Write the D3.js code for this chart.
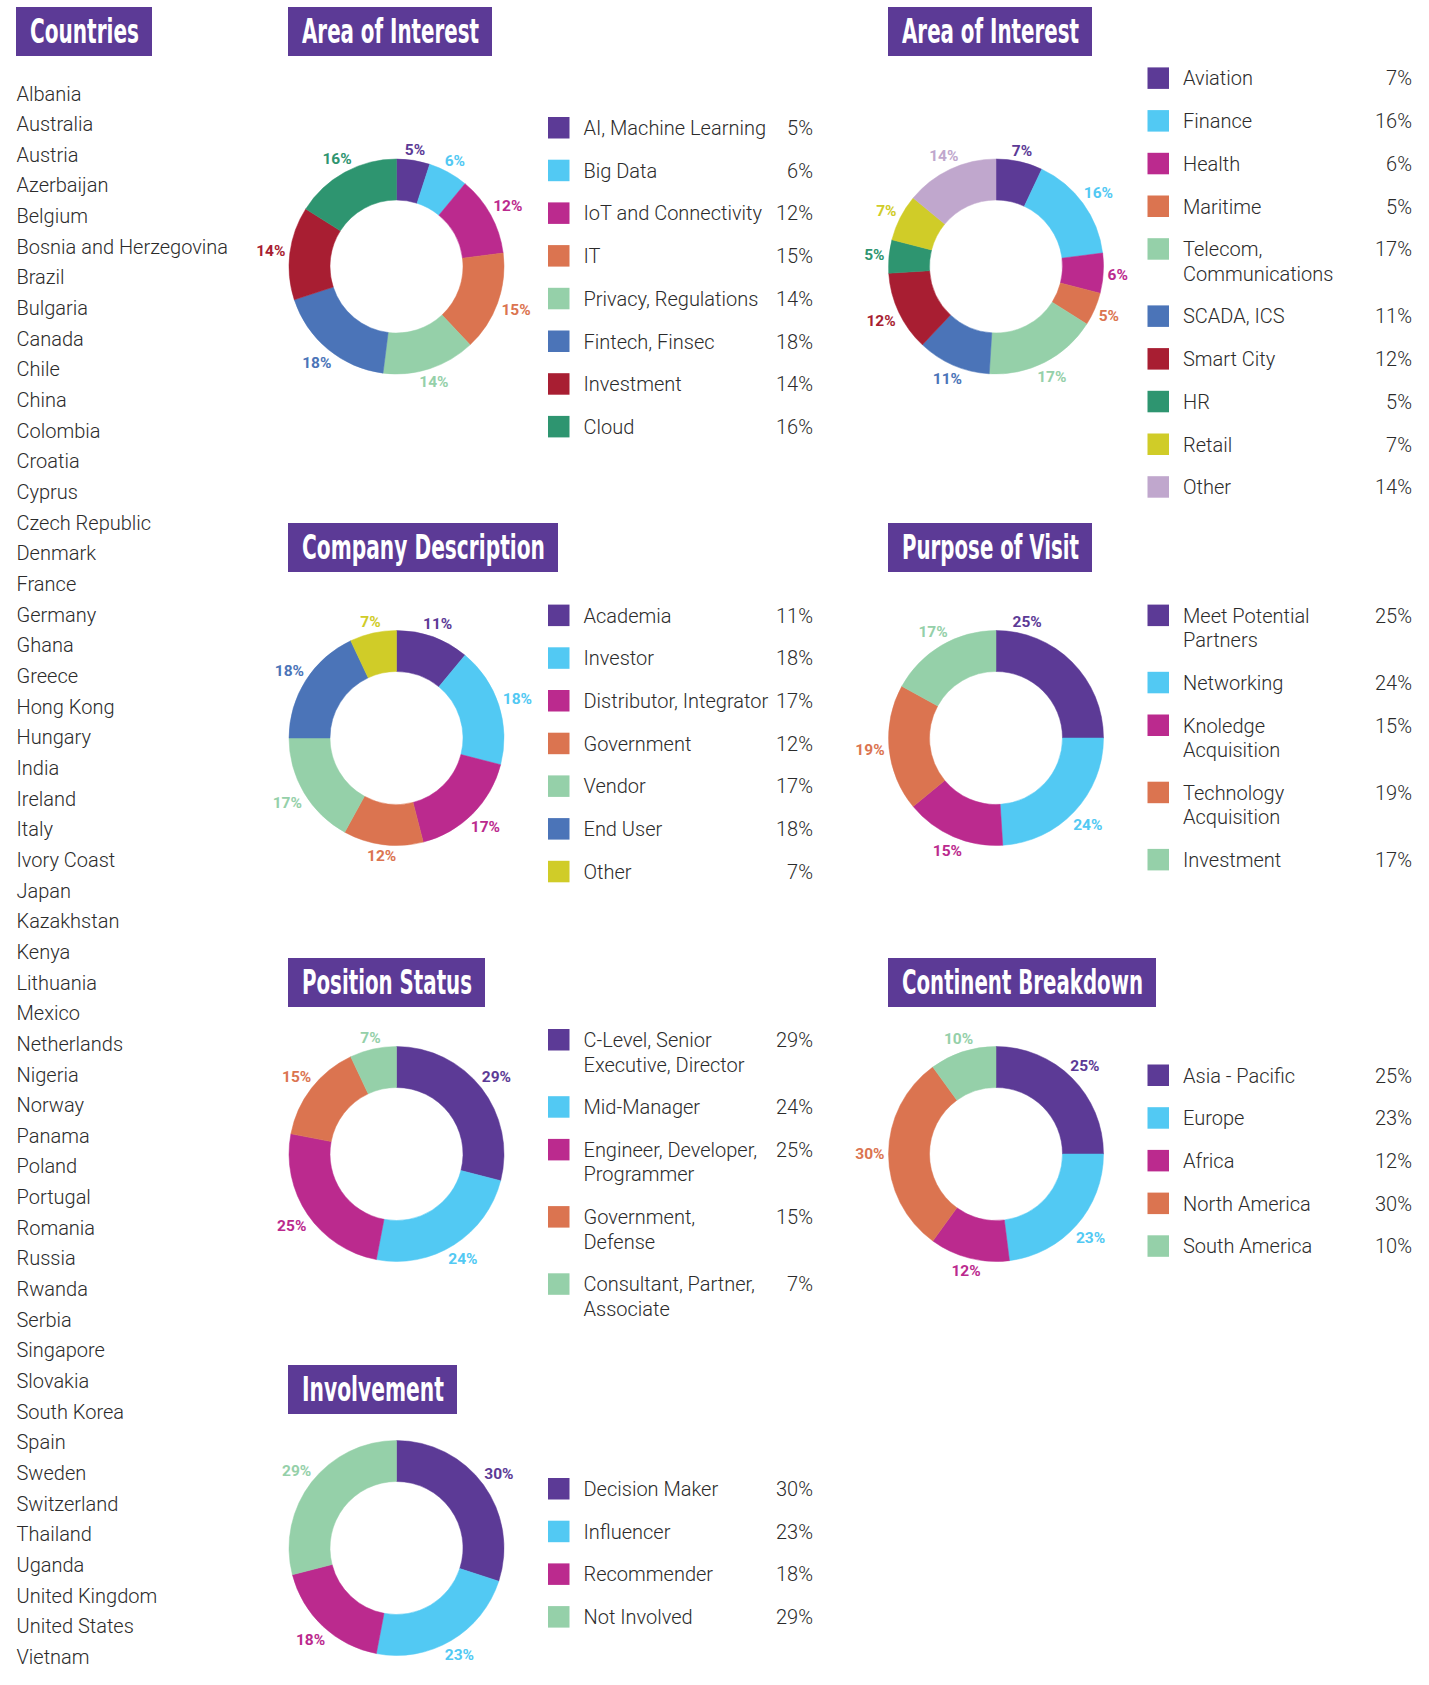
<!DOCTYPE html>
<html>
<head>
<meta charset="utf-8">
<script src="https://cdn.jsdelivr.net/npm/d3@7"></script>
<style>
body { margin: 0; background: #fff; }
text { font-family: Roboto, "Noto Sans", sans-serif; }
</style>
</head>
<body>
<svg id="chart"></svg>
<script>
var width = 1429;
var height = 1685;

var countries = ['Albania', 'Australia', 'Austria', 'Azerbaijan', 'Belgium', 'Bosnia and Herzegovina',
    'Brazil', 'Bulgaria', 'Canada', 'Chile', 'China', 'Colombia', 'Croatia', 'Cyprus', 'Czech Republic',
    'Denmark', 'France', 'Germany', 'Ghana', 'Greece', 'Hong Kong', 'Hungary', 'India', 'Ireland', 'Italy',
    'Ivory Coast', 'Japan', 'Kazakhstan', 'Kenya', 'Lithuania', 'Mexico', 'Netherlands', 'Nigeria', 'Norway',
    'Panama', 'Poland', 'Portugal', 'Romania', 'Russia', 'Rwanda', 'Serbia', 'Singapore', 'Slovakia',
    'South Korea', 'Spain', 'Sweden', 'Switzerland', 'Thailand', 'Uganda', 'United Kingdom',
    'United States', 'Vietnam'];

var interestLabels = ['AI, Machine Learning', 'Big Data', 'IoT and Connectivity', 'IT', 'Privacy, Regulations',
    'Fintech, Finsec', 'Investment', 'Cloud'];
var interestValues = [5, 6, 12, 15, 14, 18, 14, 16];

var sectorLabels = ['Aviation', 'Finance', 'Health', 'Maritime', 'Telecom,\nCommunications', 'SCADA, ICS',
    'Smart City', 'HR', 'Retail', 'Other'];
var sectorValues = [7, 16, 6, 5, 17, 11, 12, 5, 7, 14];

var companyLabels = ['Academia', 'Investor', 'Distributor, Integrator', 'Government', 'Vendor', 'End User', 'Other'];
var companyValues = [11, 18, 17, 12, 17, 18, 7];

var purposeLabels = ['Meet Potential\nPartners', 'Networking', 'Knoledge\nAcquisition', 'Technology\nAcquisition',
    'Investment'];
var purposeValues = [25, 24, 15, 19, 17];

var positionLabels = ['C-Level, Senior\nExecutive, Director', 'Mid-Manager', 'Engineer, Developer,\nProgrammer',
    'Government,\nDefense', 'Consultant, Partner,\nAssociate'];
var positionValues = [29, 24, 25, 15, 7];

var continentLabels = ['Asia - Pacific', 'Europe', 'Africa', 'North America', 'South America'];
var continentValues = [25, 23, 12, 30, 10];

var involvementLabels = ['Decision Maker', 'Influencer', 'Recommender', 'Not Involved'];
var involvementValues = [30, 23, 18, 29];

var purple = '#5c3a96';
var palette = [purple, '#52c9f3', '#bb2a8e', '#db7450', '#95d0a9', '#4b74b8', '#a81e32', '#2e9570',
    '#d0cc28', '#c0a7cd'];
var companyColors = [purple, '#52c9f3', '#bb2a8e', '#db7450', '#95d0a9', '#4b74b8', '#d0cc28'];
var involvementColors = [purple, '#52c9f3', '#bb2a8e', '#95d0a9'];

var outerR = 107.5;
var innerR = 66.5;
var rowStep = 42.7;
var lineStep = 24.5;
var textColor = '#2b2b2b';
var leftCol = {cx: 396.5, boxX: 288, legendX: 548, pctX: 813};
var rightCol = {cx: 996, boxX: 888, legendX: 1147.5, pctX: 1412};

var panels = [
    {title: 'Area of Interest', labels: interestLabels, values: interestValues, colors: palette,
        col: leftCol, boxY: 7, boxW: 204, cy: 266.5, legendY: 128},
    {title: 'Area of Interest', labels: sectorLabels, values: sectorValues, colors: palette,
        col: rightCol, boxY: 7, boxW: 204, cy: 266.5, legendY: 78.4},
    {title: 'Company Description', labels: companyLabels, values: companyValues, colors: companyColors,
        col: leftCol, boxY: 523, boxW: 270, cy: 738, legendY: 615.6},
    // the first label of this one sits nearer the top than the slice middle
    {title: 'Purpose of Visit', labels: purposeLabels, values: purposeValues, colors: palette,
        col: rightCol, boxY: 523, boxW: 204, cy: 738, legendY: 615.6, labelAngle: {0: 15}},
    {title: 'Position Status', labels: positionLabels, values: positionValues, colors: palette,
        col: leftCol, boxY: 958, boxW: 197, cy: 1154, legendY: 1040},
    {title: 'Continent Breakdown', labels: continentLabels, values: continentValues, colors: palette,
        col: rightCol, boxY: 958, boxW: 268, cy: 1154, legendY: 1075.5},
    {title: 'Involvement', labels: involvementLabels, values: involvementValues, colors: involvementColors,
        col: leftCol, boxY: 1365, boxW: 169, cy: 1548, legendY: 1489}
];

var svg = d3.select('#chart')
  .attr('width', width)
  .attr('height', height);

function drawTitle (x, y, w, label) {
    var g = svg.append('g').attr('transform', 'translate(' + x + ',' + y + ')');
    g.append('rect')
      .attr('width', w)
      .attr('height', 49)
      .attr('fill', purple);
    g.append('text')
      .attr('x', 14)
      .attr('y', 36)
      .attr('textLength', w - 27)
      .attr('lengthAdjust', 'spacingAndGlyphs')
      .style('font-family', '"Liberation Sans Narrow", "DejaVu Sans Condensed", sans-serif')
      .style('font-weight', 'bold')
      .style('font-size', '33px')
      .attr('fill', '#fff')
      .text(label);
}

// countries column
drawTitle(16, 7, 136, 'Countries');

var countryY = d3.scaleLinear()
  .domain([0, countries.length - 1])
  .range([93.5, 1657]);

svg.append('g').selectAll('text')
  .data(countries)
  .enter().append('text')
  .attr('x', 16.5)
  .attr('y', function (d, i) { return countryY(i); })
  .attr('dy', '0.35em')
  .style('font-size', '20px')
  .style('font-weight', 300)
  .attr('fill', textColor)
  .text(function (d) { return d; });

var pie = d3.pie().sort(null).value(function (d) { return d; });
var arc = d3.arc().innerRadius(innerR).outerRadius(outerR);

panels.forEach(function (p) {
    drawTitle(p.col.boxX, p.boxY, p.boxW, p.title);

    var color = d3.scaleOrdinal().domain(d3.range(p.values.length)).range(p.colors);
    var g = svg.append('g').attr('transform', 'translate(' + p.col.cx + ',' + p.cy + ')');

    var slices = pie(p.values);
    g.selectAll('path')
      .data(slices)
      .enter().append('path')
      .attr('d', arc)
      .attr('fill', function (d, i) { return color(i); })
      .attr('stroke', function (d, i) { return color(i); })
      .attr('stroke-width', 0.5);

    // percentage labels just outside the ring
    g.selectAll('text.pct')
      .data(slices)
      .enter().append('text')
      .attr('class', 'pct')
      .attr('text-anchor', 'middle')
      .attr('dy', '0.35em')
      .style('font-size', '15.5px')
      .style('font-weight', 'bold')
      .attr('fill', function (d, i) { return color(i); })
      .text(function (d) { return d.data + '%'; })
      .each(function (d, i) {
          var w = this.getComputedTextLength();
          var a = (d.startAngle + d.endAngle) / 2;
          if (p.labelAngle && p.labelAngle[i] !== undefined) a = p.labelAngle[i] * Math.PI / 180;
          var r = outerR + 4 + (w / 2) * Math.abs(Math.sin(a)) + 5.5 * Math.abs(Math.cos(a));
          d3.select(this)
            .attr('x', r * Math.sin(a))
            .attr('y', -r * Math.cos(a));
      });

    // legend
    var y = p.legendY;
    p.labels.forEach(function (label, i) {
        var lines = label.split('\n');
        var item = svg.append('g').attr('transform', 'translate(0,' + y + ')');
        item.append('rect')
          .attr('x', p.col.legendX)
          .attr('y', -11)
          .attr('width', 21.5)
          .attr('height', 21.5)
          .attr('fill', color(i));
        var t = item.append('text')
          .attr('x', p.col.legendX + 35.5)
          .attr('y', 0)
          .style('font-size', '20px')
          .style('font-weight', 300)
          .attr('fill', textColor);
        lines.forEach(function (line, k) {
            t.append('tspan')
              .attr('x', p.col.legendX + 35.5)
              .attr('y', k * lineStep)
              .attr('dy', '0.35em')
              .text(line);
        });
        item.append('text')
          .attr('x', p.col.pctX)
          .attr('y', 0)
          .attr('dy', '0.35em')
          .attr('text-anchor', 'end')
          .style('font-size', '20px')
          .style('font-weight', 300)
          .attr('fill', textColor)
          .text(p.values[i] + '%');
        y += rowStep + lineStep * (lines.length - 1);
    });
});
</script>
</body>
</html>
